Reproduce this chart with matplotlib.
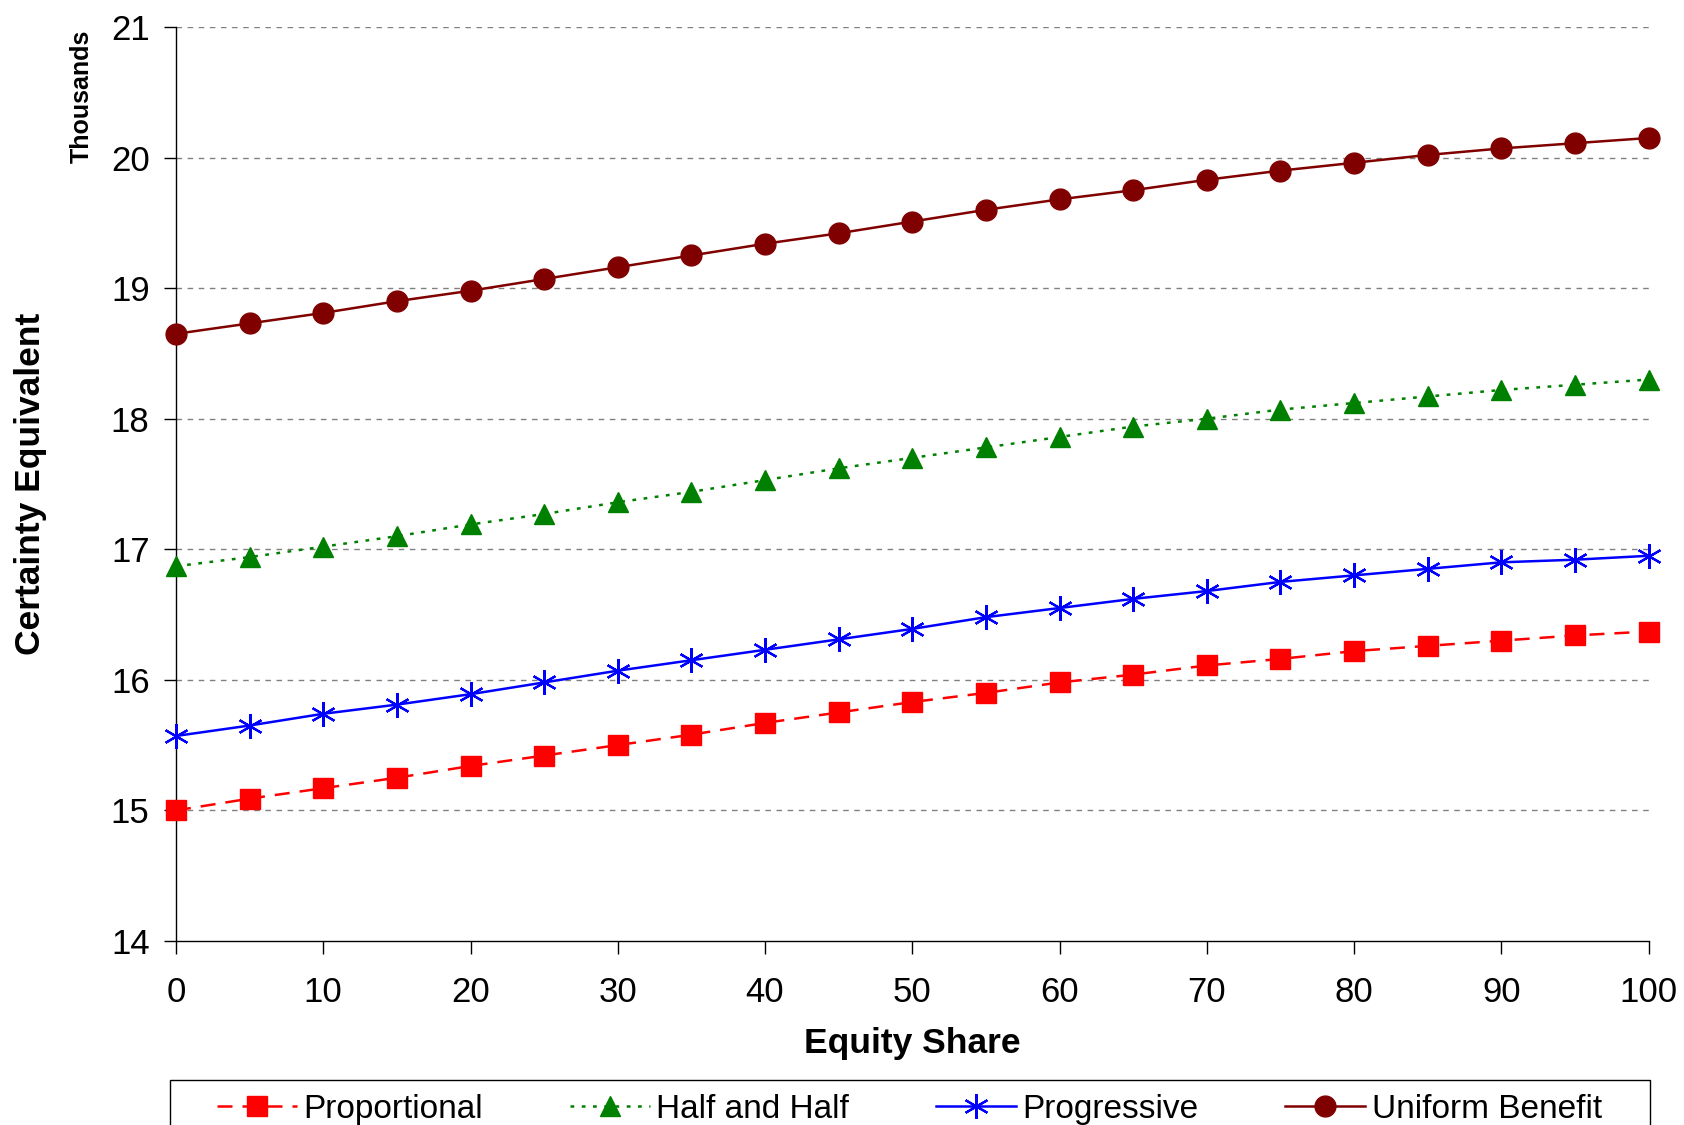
import numpy as np
import matplotlib
matplotlib.use('Agg')
import matplotlib.pyplot as plt
from matplotlib.patches import Rectangle

plt.rcParams['font.family'] = ['Liberation Sans', 'DejaVu Sans']

equity = [0, 5, 10, 15, 20, 25, 30, 35, 40, 45, 50, 55, 60, 65, 70, 75, 80, 85, 90, 95, 100]

proportional = [15.00, 15.09, 15.17, 15.25, 15.34, 15.42, 15.50, 15.58, 15.67, 15.75, 15.83,
                15.90, 15.98, 16.04, 16.11, 16.16, 16.22, 16.26, 16.30, 16.34, 16.37]
half_half = [16.87, 16.94, 17.02, 17.10, 17.19, 17.27, 17.36, 17.44, 17.53, 17.62, 17.70,
             17.78, 17.86, 17.94, 18.00, 18.07, 18.12, 18.17, 18.22, 18.26, 18.30]
progressive = [15.57, 15.65, 15.74, 15.81, 15.89, 15.98, 16.07, 16.15, 16.23, 16.31, 16.39,
               16.48, 16.55, 16.62, 16.68, 16.75, 16.80, 16.85, 16.90, 16.92, 16.95]
uniform = [18.65, 18.73, 18.81, 18.90, 18.98, 19.07, 19.16, 19.25, 19.34, 19.42, 19.51,
           19.60, 19.68, 19.75, 19.83, 19.90, 19.96, 20.02, 20.07, 20.11, 20.15]

fig = plt.figure(figsize=(16.84, 11.25), dpi=100)
ax = fig.add_axes([0.1045, 0.1636, 0.8745, 0.8124])

ax.plot(equity, proportional, color='#FF0000', linestyle=(0, (6, 4)), linewidth=1.8,
        marker='s', markersize=14, label='Proportional', clip_on=False, zorder=3)
ax.plot(equity, half_half, color='#008000', linestyle=(0, (1.5, 3)), linewidth=1.8,
        marker='^', markersize=14, label='Half and Half', clip_on=False, zorder=3)
ax.plot(equity, progressive, color='#0000FF', linestyle='-', linewidth=1.8,
        marker=(6, 2, 0), markersize=18, markeredgewidth=1.6, label='Progressive',
        clip_on=False, zorder=3)
ax.plot(equity, uniform, color='#800000', linestyle='-', linewidth=1.8,
        marker='o', markersize=15, label='Uniform Benefit', clip_on=False, zorder=3)

ax.set_xlim(0, 100)
ax.set_ylim(14, 21)
ax.set_xticks(np.arange(0, 101, 10))
ax.set_yticks(np.arange(14, 22, 1))

for yv in range(15, 22):
    ax.axhline(yv, color='#808080', linestyle=(0, (4, 4)), linewidth=1.0, zorder=1)

ax.spines['top'].set_visible(False)
ax.spines['right'].set_visible(False)
ax.spines['left'].set_linewidth(1.0)
ax.spines['bottom'].set_linewidth(1.0)
ax.tick_params(axis='both', direction='out', length=9, width=1.0, labelsize=25)
ax.tick_params(axis='x', pad=16)
ax.tick_params(axis='y', pad=10)

ax.set_xlabel('Equity Share', fontsize=25.5, fontweight='bold', labelpad=13)
ax.set_ylabel('Certainty Equivalent', fontsize=25.5, fontweight='bold', labelpad=46)
fig.text(0.0485, 0.914, 'Thousands', rotation=90, fontsize=18, fontweight='bold',
         ha='center', va='center')

# legend frame, cut off by the bottom edge as in the original
fig.patches.append(Rectangle((0.101, -0.06), 0.879, 0.10, transform=fig.transFigure,
                             facecolor='white', edgecolor='black', linewidth=1.0,
                             zorder=0))
leg = fig.legend(loc='center', bbox_to_anchor=(0.540, 0.014), ncol=4, fontsize=24,
                 frameon=False, handlelength=2.4, handletextpad=0.2,
                 columnspacing=2.6, borderpad=0, borderaxespad=0)

fig.savefig('out.png', dpi=100)
